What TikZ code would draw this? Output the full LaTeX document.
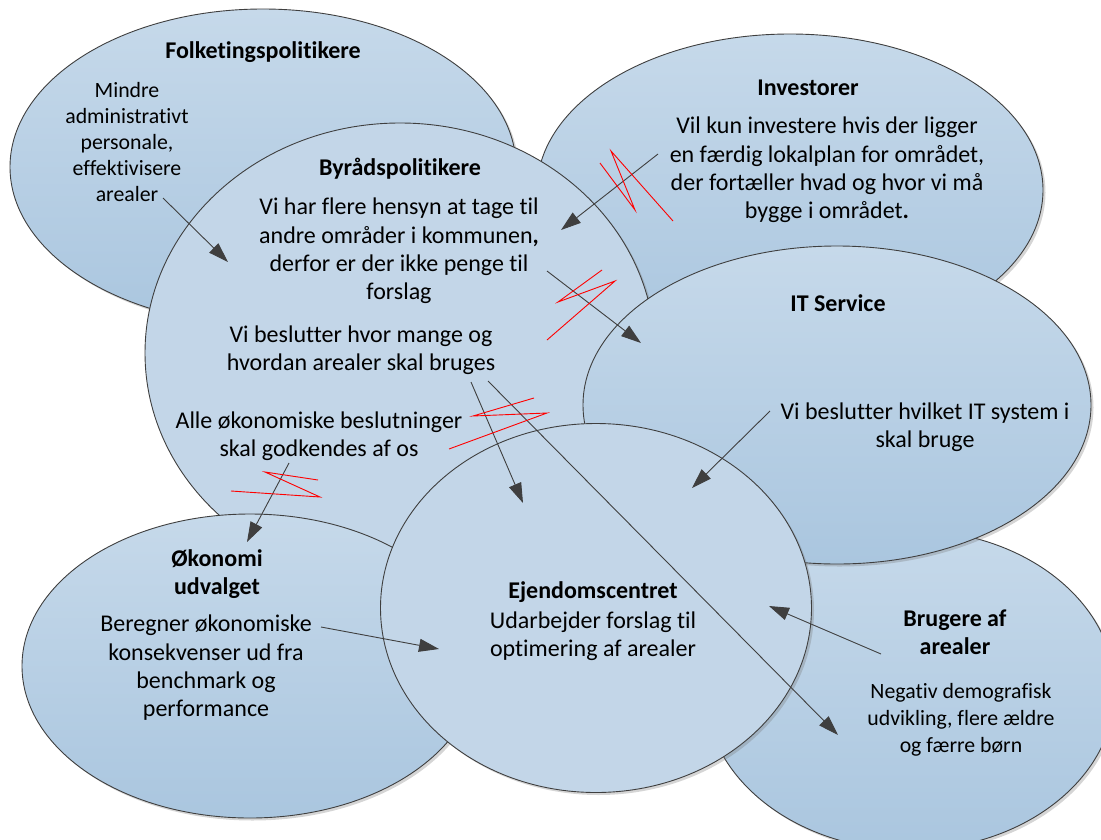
\documentclass[tikz,border=0pt]{standalone}
\usepackage{fontspec}
\setmainfont{Carlito}[Ligatures={NoCommon}]
\usetikzlibrary{arrows.meta,shapes.geometric,shadows}

\definecolor{rim}{HTML}{3F3F3F}
\definecolor{bubbletop}{HTML}{C6D9EA}
\definecolor{bubblebottom}{HTML}{AAC6DF}
\definecolor{bubbleflat}{HTML}{C3D6E8}
\definecolor{clashred}{HTML}{FF0000}

\tikzset{
  bubblebase/.style={ellipse, draw=rim, line width=0.9pt, inner sep=0pt, outer sep=0pt,
    drop shadow={shadow xshift=2.5pt, shadow yshift=-2.5pt, opacity=0.3, fill=black!55}},
  bubble/.style={bubblebase, top color=bubbletop, bottom color=bubblebottom},
  flatbubble/.style={bubblebase, fill=bubbleflat},
  heading/.style={font=\bfseries\fontsize{24}{28.3}\selectfont, align=center, inner sep=0pt},
  bodytext/.style={font=\fontsize{24}{28.3}\selectfont, align=center, inner sep=0pt},
  link/.style={draw=rim, line width=0.9pt, -{Triangle[length=20pt,width=13pt]}},
  clash/.style={draw=clashred, line width=0.9pt, line join=miter},
}

\begin{document}
\begin{tikzpicture}[x=1pt,y=-1pt]
\useasboundingbox (0,0) rectangle (1101,839);

% stakeholder bubbles, back to front
\node[bubble, minimum width=506pt, minimum height=316pt] (folk) at (263,167) {};
\node[bubble, minimum width=506pt, minimum height=312pt] (inv) at (790,190) {};
\node[flatbubble, minimum width=510pt, minimum height=460pt] (byrad) at (400,353) {};
\node[bubble, minimum width=456pt, minimum height=304pt] (okon) at (250,666) {};
\node[bubble, minimum width=410pt, minimum height=320pt] (brug) at (910,690) {};
\node[bubble, minimum width=508pt, minimum height=318pt] (its) at (837,405) {};
\node[flatbubble, minimum width=431pt, minimum height=369pt] (ejd) at (596,608) {};

% texts
\node[heading] (folkT) at (263,52) {Folketingspolitikere};
\node[font=\fontsize{21.8}{25.8}\selectfont, align=center, inner sep=0pt] (folkB) at (127,142)
  {Mindre\\administrativt\\personale,\\effektivisere\\arealer};

\node[heading] (invT) at (808,88) {Investorer};
\node[bodytext] (invB) at (827,170)
  {Vil kun investere hvis der ligger\\en færdig lokalplan for området,\\der fortæller hvad og hvor vi må\\bygge i området\textbf{.}};

\node[heading] (byradT) at (400,169) {Byrådspolitikere};
\node[bodytext] (byradB1) at (399,251)
  {Vi har flere hensyn at tage til\\andre områder i kommunen\textbf{,}\\derfor er der ikke penge til\\forslag};
\node[bodytext] (byradB2) at (361,350)
  {Vi beslutter hvor mange og\\hvordan arealer skal bruges};
\node[bodytext] (byradB3) at (319,436)
  {Alle økonomiske beslutninger\\skal godkendes af os};

\node[heading] (itsT) at (838,303) {IT Service};
\node[bodytext] (itsB) at (925,427) {Vi beslutter hvilket IT system i\\skal bruge};

\node[heading] (okonT) at (217,574) {Økonomi\\udvalget};
\node[bodytext] (okonB) at (206,668)
  {Beregner økonomiske\\konsekvenser ud fra\\benchmark og\\performance};

\node[heading] (ejdT) at (593,592) {Ejendomscentret};
\node[bodytext] (ejdB) at (593,636) {Udarbejder forslag til\\optimering af arealer};

\node[heading] (brugT) at (955,632) {Brugere af\\arealer};
\node[font=\fontsize{21.8}{27}\selectfont, align=center, inner sep=0pt] (brugB) at (961,720)
  {Negativ demografisk\\udvikling, flere ældre\\og færre børn};

% connector ends
\coordinate (a1s) at (163,198);  \coordinate (a1e) at (228,262);
\coordinate (a2s) at (658,154);  \coordinate (a2e) at (561,230);
\coordinate (a3s) at (547,271);  \coordinate (a3e) at (641,343);
\coordinate (a4s) at (471,382);  \coordinate (a4e) at (523,503);
\coordinate (a5s) at (488,381);  \coordinate (a5e) at (838,735);
\coordinate (a6s) at (770,411);  \coordinate (a6e) at (692,488);
\coordinate (a7s) at (321,627);  \coordinate (a7e) at (439,649);
\coordinate (a8s) at (881,654);  \coordinate (a8e) at (769,606);
\coordinate (a9s) at (289,463);  \coordinate (a9e) at (247,542);

% influence arrows
\draw[link] (a1s) -- (a1e);
\draw[link] (a2s) -- (a2e);
\draw[link] (a3s) -- (a3e);
\draw[link] (a4s) -- (a4e);
\draw[link] (a5s) -- (a5e);
\draw[link] (a6s) -- (a6e);
\draw[link] (a7s) -- (a7e);
\draw[link] (a8s) -- (a8e);
\draw[link] (a9s) -- (a9e);

% conflict marks
\draw[clash] (600,163) -- (635,210) -- (611,151) -- (673,221);
\draw[clash] (602,270) -- (558,302) -- (615,281) -- (547,340);
\draw[clash] (534,398) -- (473,416) -- (547,413) -- (449,449);
\draw[clash] (318,480) -- (265,472) -- (320,497) -- (231,491);
\end{tikzpicture}
\end{document}
